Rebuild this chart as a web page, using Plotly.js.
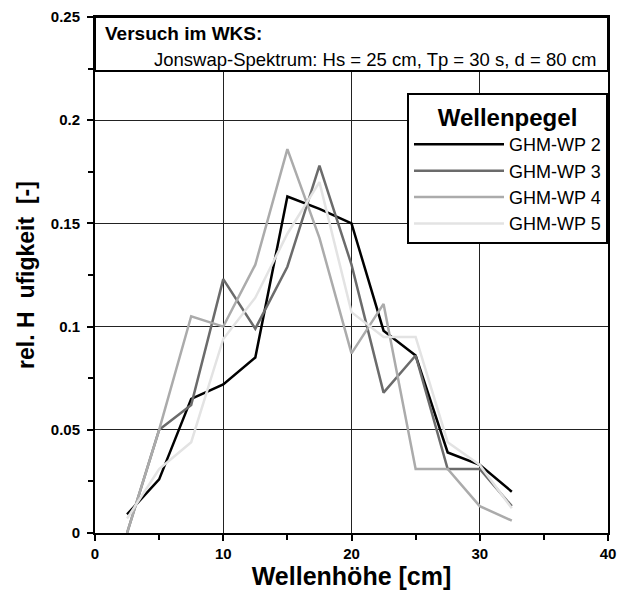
<!DOCTYPE html>
<html>
<head>
<meta charset="utf-8">
<script src="https://cdn.plot.ly/plotly-3.0.1.min.js"></script>
<style>html,body{margin:0;padding:0;background:#fff;}#chart{width:618px;height:590px;}</style>
</head>
<body>
<div id="chart"></div>
<script>
// Wave height classes [cm]
const waveHeight = [2.5, 5, 7.5, 10, 12.5, 15, 17.5, 20, 22.5, 25, 27.5, 30, 32.5];
// Relative frequencies per wave gauge
const wp2 = [0.009, 0.026, 0.065, 0.072, 0.085, 0.163, 0.157, 0.150, 0.098, 0.086, 0.039, 0.033, 0.020];
const wp3 = [0.000, 0.050, 0.062, 0.123, 0.099, 0.129, 0.178, 0.130, 0.068, 0.086, 0.031, 0.031, 0.013];
const wp4 = [0.000, 0.050, 0.105, 0.100, 0.130, 0.186, 0.143, 0.087, 0.111, 0.031, 0.031, 0.013, 0.006];
const wp5 = [0.007, 0.031, 0.044, 0.094, 0.114, 0.145, 0.170, 0.107, 0.095, 0.095, 0.044, 0.033, 0.012];
const seriesNames = ["GHM-WP 2", "GHM-WP 3", "GHM-WP 4", "GHM-WP 5"];
const seriesColors = ["#000000", "#6b6b6b", "#ababab", "#e3e3e3"];
const seriesData = [wp2, wp3, wp4, wp5];

const FONT = "Liberation Sans, Arial, sans-serif";

const traces = seriesData.map((vals, i) => ({
  type: "scatter",
  mode: "lines",
  x: waveHeight,
  y: vals,
  name: seriesNames[i],
  line: {color: seriesColors[i], width: 2.5}
}));

const axisCommon = {
  showline: true, linewidth: 2, linecolor: "#000", mirror: true,
  ticks: "outside", ticklen: 6, tickwidth: 2, tickcolor: "#000",
  showgrid: true, gridcolor: "#222", gridwidth: 1,
  zeroline: false,
  tickfont: {family: FONT, size: 15, weight: "bold", color: "#000"}
};

const layout = {
  width: 618, height: 590,
  margin: {l: 95, r: 10, t: 17, b: 57},
  paper_bgcolor: "#fff", plot_bgcolor: "#fff",
  font: {family: FONT, color: "#000"},
  xaxis: Object.assign({}, axisCommon, {
    range: [0, 40], dtick: 10, tick0: 0,
    minor: {dtick: 5, ticks: "outside", ticklen: 5, tickwidth: 2, tickcolor: "#000", showgrid: false},
    title: {text: "Wellenhöhe [cm]", font: {family: FONT, size: 25, weight: "bold"}, standoff: 2}
  }),
  yaxis: Object.assign({}, axisCommon, {
    range: [0, 0.25], dtick: 0.05, tick0: 0,
    ticklabelstandoff: 4,
    minor: {dtick: 0.025, ticks: "outside", ticklen: 5, tickwidth: 2, tickcolor: "#000", showgrid: false},
    title: {text: "rel. H  ufigkeit  [-]", font: {family: FONT, size: 23, weight: "bold"}, standoff: 10}
  }),
  showlegend: true,
  legend: {
    x: 1, xanchor: "right", y: 0.853, yanchor: "top",
    bgcolor: "#fff", bordercolor: "#000", borderwidth: 2,
    font: {family: FONT, size: 18, color: "#000"},
    title: {text: "Wellenpegel", side: "top center", font: {family: FONT, size: 24, weight: "bold"}},
    itemwidth: 90, tracegroupgap: 0
  },
  shapes: [{
    type: "rect", xref: "paper", yref: "paper",
    x0: 0, x1: 1, y0: 0.8953, y1: 1,
    line: {color: "#000", width: 2}, fillcolor: "#fff", layer: "above"
  }],
  annotations: [
    {xref: "paper", yref: "paper", x: 0.0156, y: 0.9671, xanchor: "left", yanchor: "middle",
     text: "Versuch im WKS:", showarrow: false, font: {family: FONT, size: 19, weight: "bold"}},
    {xref: "paper", yref: "paper", x: 0.9805, y: 0.9186, xanchor: "right", yanchor: "middle",
     text: "Jonswap-Spektrum: Hs = 25 cm, Tp = 30 s, d = 80 cm", showarrow: false,
     font: {family: FONT, size: 18.5}}
  ]
};

Plotly.newPlot("chart", traces, layout, {displayModeBar: false, staticPlot: true});
</script>
</body>
</html>
